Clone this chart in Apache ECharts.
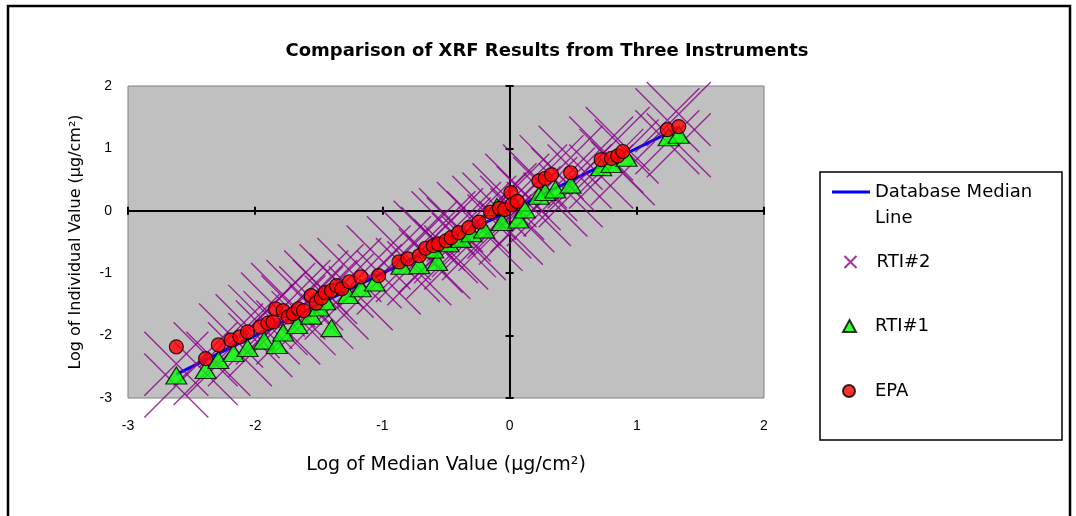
<!DOCTYPE html>
<html>
<head>
<meta charset="utf-8">
<script src="https://cdn.jsdelivr.net/npm/echarts@6/dist/echarts.min.js"></script>
<style>
html,body{margin:0;padding:0;background:#fff;}
#c{width:1076px;height:516px;}
</style>
</head>
<body>
<div id="c"></div>
<script>
// ---- data (log10 values) ----
var titleText = 'Comparison of XRF Results from Three Instruments';
var xTickLabels = ['-3', '-2', '-1', '0', '1', '2'];
var yTickLabels = ['-3', '-2', '-1', '0', '1', '2'];

// Database median line (median vs median)
var medianX = [-2.62, -2.39, -2.29, -2.19, -2.06, -1.96, -1.84, -1.66, -1.56, -1.45, -1.36, -1.26, -1.17, -1.03, -0.87, -0.71, -0.56, -0.40, -0.24, -0.08, 0.06, 0.23, 0.33, 0.48, 0.72, 0.89, 1.24, 1.33];

// EPA
var epaX = [-2.62, -2.39, -2.29, -2.19, -2.12, -2.06, -1.96, -1.90, -1.86, -1.84, -1.78, -1.74, -1.70, -1.66, -1.62, -1.56, -1.52, -1.48, -1.45, -1.40, -1.36, -1.32, -1.26, -1.17, -1.03, -0.87, -0.80, -0.71, -0.66, -0.60, -0.56, -0.50, -0.46, -0.40, -0.32, -0.24, -0.15, -0.08, -0.04, 0.01, 0.02, 0.06, 0.23, 0.28, 0.33, 0.48, 0.72, 0.80, 0.85, 0.89, 1.24, 1.33];
var epaY = [-2.18, -2.37, -2.15, -2.07, -2.02, -1.94, -1.86, -1.80, -1.78, -1.57, -1.60, -1.70, -1.65, -1.57, -1.60, -1.36, -1.48, -1.40, -1.31, -1.28, -1.20, -1.25, -1.14, -1.06, -1.04, -0.82, -0.77, -0.72, -0.60, -0.56, -0.53, -0.48, -0.43, -0.35, -0.27, -0.18, -0.02, 0.04, 0.02, 0.29, 0.10, 0.15, 0.48, 0.52, 0.58, 0.61, 0.82, 0.84, 0.88, 0.95, 1.30, 1.35];

// RTI#1
var rti1X = [-2.62, -2.39, -2.29, -2.17, -2.06, -1.93, -1.83, -1.78, -1.67, -1.56, -1.50, -1.40, -1.45, -1.27, -1.17, -1.06, -0.85, -0.71, -0.57, -0.60, -0.48, -0.38, -0.30, -0.20, -0.10, -0.06, 0.07, 0.12, 0.23, 0.28, 0.36, 0.48, 0.72, 0.80, 0.92, 1.25, 1.33];
var rti1Y = [-2.64, -2.55, -2.39, -2.28, -2.20, -2.08, -2.15, -1.95, -1.83, -1.68, -1.55, -1.88, -1.45, -1.35, -1.24, -1.15, -0.88, -0.87, -0.82, -0.62, -0.52, -0.45, -0.36, -0.30, 0.06, -0.18, -0.14, 0.02, 0.24, 0.30, 0.34, 0.42, 0.70, 0.75, 0.85, 1.18, 1.22];

// RTI#2
var rti2X = [-2.62, -2.62, -2.39, -2.39, -2.29, -2.19, -2.12, -2.06, -1.96, -1.96, -1.90, -1.86, -1.84, -1.78, -1.74, -1.70, -1.66, -1.62, -1.56, -1.52, -1.48, -1.45, -1.40, -1.36, -1.32, -1.26, -1.17, -1.10, -1.03, -0.95, -0.87, -0.80, -0.75, -0.71, -0.66, -0.62, -0.60, -0.56, -0.52, -0.50, -0.46, -0.42, -0.40, -0.36, -0.32, -0.28, -0.24, -0.20, -0.15, -0.12, -0.08, -0.04, 0.01, 0.02, 0.06, 0.10, 0.15, 0.20, 0.23, 0.28, 0.33, 0.36, 0.42, 0.48, 0.48, 0.55, 0.72, 0.72, 0.80, 0.85, 0.89, 0.92, 1.24, 1.24, 1.33, 1.33];
var rti2Y = [-2.80, -2.45, -2.30, -2.60, -2.45, -2.00, -2.30, -1.85, -2.15, -1.70, -1.95, -1.50, -1.80, -1.35, -1.95, -1.55, -1.30, -1.80, -1.40, -1.15, -1.70, -1.30, -1.05, -1.55, -1.20, -0.95, -1.40, -1.05, -0.75, -1.15, -0.60, -0.95, -0.50, -1.00, -0.35, -0.80, -0.45, -0.90, -0.20, -0.65, -0.15, -0.75, -0.30, -0.55, -0.05, -0.60, -0.20, 0.05, -0.45, 0.10, -0.25, 0.25, -0.35, 0.05, 0.40, -0.15, 0.20, 0.55, -0.05, 0.35, 0.70, 0.10, 0.50, 0.85, 0.25, 0.55, 1.00, 0.55, 0.80, 1.15, 0.60, 0.95, 1.45, 1.10, 1.55, 1.05];

function pairs(xs, ys) { return xs.map(function (x, i) { return [x, ys[i]]; }); }

var tickFont = 'Liberation Sans';
var textFont = 'DejaVu Sans';

function baseAxis(extra) {
  var a = { type: 'value', min: -3, max: 2, interval: 1, splitLine: { show: false } };
  for (var k in extra) a[k] = extra[k];
  return a;
}

var chart = echarts.init(document.getElementById('c'), null, { renderer: 'canvas' });
var option = {
  backgroundColor: '#ffffff',
  animation: false,
  title: {
    text: titleText,
    left: 542, top: 37, textAlign: 'center',
    textStyle: { fontFamily: 'DejaVu Sans', fontWeight: 'bold', fontSize: 18, color: '#000' }
  },
  grid: {
    left: 128, right: 312, top: 86, bottom: 118,
    show: true, backgroundColor: '#C0C0C0', borderColor: '#808080', borderWidth: 1
  },
  xAxis: [
    baseAxis({
      position: 'bottom',
      axisLine: { show: false, onZero: false },
      axisTick: { show: false },
      axisLabel: { show: true, margin: 21, fontSize: 14, fontFamily: tickFont, color: '#000',
        formatter: function (v) { return xTickLabels[Math.round(v) + 3]; } },
      name: 'Log of Median Value (\u00b5g/cm\u00b2)',
      nameLocation: 'middle', nameGap: 58,
      nameTextStyle: { fontFamily: textFont, fontSize: 19, color: '#000' }
    }),
    baseAxis({
      position: 'bottom',
      axisLine: { show: true, onZero: true, onZeroAxisIndex: 0, lineStyle: { color: '#000', width: 2 } },
      axisTick: { show: true, length: 4, lineStyle: { color: '#000', width: 2 } },
      axisLabel: { show: false }
    }),
    baseAxis({
      position: 'bottom',
      axisLine: { show: false, onZero: true, onZeroAxisIndex: 0 },
      axisTick: { show: true, inside: true, length: 4, lineStyle: { color: '#000', width: 2 } },
      axisLabel: { show: false }
    })
  ],
  yAxis: [
    baseAxis({
      position: 'left',
      axisLine: { show: false, onZero: false },
      axisTick: { show: false },
      axisLabel: { show: true, margin: 16, fontSize: 14, fontFamily: tickFont, color: '#000',
        formatter: function (v) { return yTickLabels[Math.round(v) + 3]; } },
      name: 'Log of Individual Value (\u00b5g/cm\u00b2)',
      nameLocation: 'middle', nameGap: 44, nameRotate: 90,
      nameTextStyle: { fontFamily: textFont, fontSize: 16, color: '#000' }
    }),
    baseAxis({
      position: 'left',
      axisLine: { show: true, onZero: true, onZeroAxisIndex: 0, lineStyle: { color: '#000', width: 2 } },
      axisTick: { show: true, length: 4, lineStyle: { color: '#000', width: 2 } },
      axisLabel: { show: false }
    }),
    baseAxis({
      position: 'left',
      axisLine: { show: false, onZero: true, onZeroAxisIndex: 0 },
      axisTick: { show: true, inside: true, length: 4, lineStyle: { color: '#000', width: 2 } },
      axisLabel: { show: false }
    })
  ],
  legend: [
    {
      data: ['Database Median Line'], orient: 'vertical', left: 832, top: 153, padding: 0,
      icon: 'rect', itemWidth: 38, itemHeight: 3,
      formatter: function () { return '\nDatabase Median\nLine'; },
      textStyle: { fontFamily: textFont, fontSize: 18, lineHeight: 26, color: '#000' }
    },
    {
      data: ['RTI#2'], orient: 'vertical', left: 842, top: 252, padding: 0,
      itemWidth: 12, itemHeight: 12,
      textStyle: { fontFamily: textFont, fontSize: 18, lineHeight: 20, color: '#000', padding: [0, 0, 0, 15] }
    },
    {
      data: ['RTI#1'], orient: 'vertical', left: 842, top: 316, padding: 0,
      itemWidth: 13, itemHeight: 12,
      textStyle: { fontFamily: textFont, fontSize: 18, lineHeight: 20, color: '#000', padding: [0, 0, 0, 14] }
    },
    {
      data: ['EPA'], orient: 'vertical', left: 842, top: 381, padding: 0,
      itemWidth: 12, itemHeight: 12,
      textStyle: { fontFamily: textFont, fontSize: 18, lineHeight: 20, color: '#000', padding: [0, 0, 0, 15] }
    }
  ],
  graphic: [
    { type: 'rect', silent: true, shape: { x: 8, y: 6, width: 1062, height: 600 },
      style: { fill: 'none', stroke: '#000', lineWidth: 2.5 } },
    { type: 'rect', silent: true, shape: { x: 820, y: 172, width: 242, height: 268 },
      style: { fill: 'none', stroke: '#000', lineWidth: 1.5 } }
  ],
  series: [
    {
      name: 'Database Median Line', type: 'line', xAxisIndex: 0, yAxisIndex: 0,
      data: medianX.map(function (m) { return [m, m]; }),
      symbol: 'none', lineStyle: { color: '#0000FF', width: 3 }, itemStyle: { color: '#0000FF' }, z: 2
    },
    {
      name: 'RTI#2', type: 'scatter', xAxisIndex: 0, yAxisIndex: 0,
      data: pairs(rti2X, rti2Y),
      symbol: 'path://M0,0L10,10M10,0L0,10', symbolSize: 64,
      itemStyle: { color: 'none', borderColor: '#8A008A', borderWidth: 1.4 }, z: 3
    },
    {
      name: 'RTI#1', type: 'scatter', xAxisIndex: 0, yAxisIndex: 0,
      data: pairs(rti1X, rti1Y),
      symbol: 'triangle', symbolSize: [21, 17],
      itemStyle: { color: '#00FF00', borderColor: '#000', borderWidth: 1.2 }, z: 4
    },
    {
      name: 'EPA', type: 'scatter', xAxisIndex: 0, yAxisIndex: 0,
      data: pairs(epaX, epaY),
      symbol: 'circle', symbolSize: 14,
      itemStyle: { color: '#FF0000', borderColor: '#000', borderWidth: 1.2 }, z: 5
    }
  ]
};
chart.setOption(option);
</script>
</body>
</html>
